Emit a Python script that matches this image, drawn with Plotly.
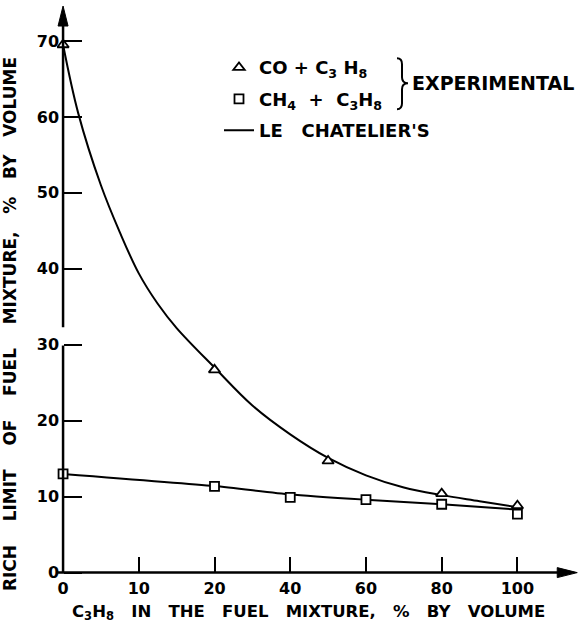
import plotly.graph_objects as go

# ---------------- data ----------------
tick_labels = [0, 10, 20, 40, 60, 80, 100]          # x tick labels (% C3H8), drawn equally spaced
y_ticks = [0, 10, 20, 30, 40, 50, 60, 70]

# experimental points
co_x = [0, 20, 50, 80, 100]
co_y = [69.5, 26.7, 14.7, 10.4, 8.8]
ch4_x = [0, 20, 40, 60, 80, 100]
ch4_y = [13.0, 11.35, 9.9, 9.6, 9.0, 7.7]

# Le Chatelier's curves
lc_co_x = [0, 2, 5, 7.5, 10, 12.5, 15, 20, 30, 40, 50, 60, 70, 80, 90, 100]
lc_co_y = [69.5, 60.5, 51.0, 44.8, 39.4, 35.4, 32.2, 27.0, 22.0, 18.2, 15.1, 12.8, 11.2, 10.2, 9.4, 8.6]
lc_ch4_x = [0, 20, 40, 60, 80, 100]
lc_ch4_y = [13.0, 11.4, 10.3, 9.6, 9.0, 8.3]


# axis is piecewise: labels 0,10,20,40,60,80,100 are equally spaced
def pos(v):
    return v / 10.0 if v <= 20 else 2.0 + (v - 20) / 20.0


def P(arr):
    return [pos(v) for v in arr]


FONT = "DejaVu Sans"
XR = [-0.08, 6.8]
YR = [-1.5, 75.0]
ML, MR, MT, MB = 57, 1, 2.7, 43.9
W, H = 579, 628
PW, PH = W - ML - MR, H - MT - MB


def px2x(px):
    return (px - ML) / PW


def py2y(py):
    return 1 - (py - MT) / PH


fig = go.Figure()

fig.add_trace(go.Scatter(
    x=P(lc_co_x), y=lc_co_y, mode="lines", name="LE   CHATELIER'S",
    line=dict(color="black", width=2, shape="spline", smoothing=1.0),
    legendrank=3, legendgroup="c"))
fig.add_trace(go.Scatter(
    x=P(lc_ch4_x), y=lc_ch4_y, mode="lines", showlegend=False, legendgroup="c",
    line=dict(color="black", width=2, shape="spline", smoothing=0.6)))
fig.add_trace(go.Scatter(
    x=P(co_x), y=co_y, mode="markers", name="CO + C<sub>3</sub> H<sub>8</sub>",
    marker=dict(symbol="triangle-up", size=10, color="white",
                line=dict(color="black", width=1.8)),
    legendrank=1, legendgroup="a"))
fig.add_trace(go.Scatter(
    x=P(ch4_x), y=ch4_y, mode="markers", name="CH<sub>4</sub>  +  C<sub>3</sub>H<sub>8</sub>",
    marker=dict(symbol="square", size=9, color="white",
                line=dict(color="black", width=1.8)),
    legendrank=2, legendgroup="b"))

pxu_x = PW / (XR[1] - XR[0])     # px per x unit
pxu_y = PH / (YR[1] - YR[0])     # px per y unit
hx = 5 / pxu_x
hy = 5 / pxu_y
lx = 20 / pxu_x
ly = 20 / pxu_y
ytop = 74.6
xtip = 6.79

# brace (pixel geometry -> paper)
bx0, bx1, bxt = 397, 402, 408
by0, bym, by1 = 58, 83, 109
brace = (f"M {px2x(bx0)},{py2y(by0)} Q {px2x(bx1)},{py2y(by0)} {px2x(bx1)},{py2y(by0 + 6)} "
         f"L {px2x(bx1)},{py2y(bym - 6)} Q {px2x(bx1)},{py2y(bym)} {px2x(bxt)},{py2y(bym)} "
         f"Q {px2x(bx1)},{py2y(bym)} {px2x(bx1)},{py2y(bym + 6)} "
         f"L {px2x(bx1)},{py2y(by1 - 6)} Q {px2x(bx1)},{py2y(by1)} {px2x(bx0)},{py2y(by1)}")

shapes = [
    # y axis (with break between ~30 and ~32)
    dict(type="line", xref="x", yref="y", x0=0, x1=0, y0=0, y1=29.9,
         line=dict(color="black", width=2.5)),
    dict(type="line", xref="x", yref="y", x0=0, x1=0, y0=32.3, y1=ytop - 1,
         line=dict(color="black", width=2.5)),
    # x axis
    dict(type="line", xref="x", yref="y", x0=XR[0], x1=xtip - lx / 2, y0=0, y1=0,
         line=dict(color="black", width=2.5)),
    # arrowheads
    dict(type="path", xref="x", yref="y",
         path=f"M {-hx},{ytop - ly} L 0,{ytop} L {hx},{ytop - ly} Z",
         fillcolor="black", line=dict(color="black", width=1)),
    dict(type="path", xref="x", yref="y",
         path=f"M {xtip - lx},{hy} L {xtip},0 L {xtip - lx},{-hy} Z",
         fillcolor="black", line=dict(color="black", width=1)),
    dict(type="path", xref="paper", yref="paper", path=brace,
         line=dict(color="black", width=2)),
]

annotations = [
    dict(text="RICH    LIMIT    OF    FUEL    MIXTURE,   %   BY   VOLUME", xref="paper", yref="paper",
         x=px2x(10), y=py2y(324), textangle=-90, showarrow=False,
         xanchor="center", yanchor="middle",
         font=dict(family=FONT, size=17, color="black", weight="bold")),
    dict(text="C<sub>3</sub>H<sub>8</sub>   IN   THE   FUEL   MIXTURE,   %   BY   VOLUME",
         xref="paper", yref="paper", x=px2x(308), y=py2y(613), showarrow=False,
         xanchor="center", yanchor="middle",
         font=dict(family=FONT, size=16.5, color="black", weight="bold")),
    dict(text="EXPERIMENTAL", xref="paper", yref="paper",
         x=px2x(410), y=py2y(83), showarrow=False,
         xanchor="left", yanchor="middle",
         font=dict(family=FONT, size=19, color="black", weight="bold")),
]

fig.update_layout(
    width=W, height=H, autosize=False,
    margin=dict(l=ML, r=MR, t=MT, b=MB, pad=0),
    paper_bgcolor="white", plot_bgcolor="white",
    font=dict(family=FONT, color="black"),
    shapes=shapes, annotations=annotations,
    legend=dict(x=px2x(219), y=py2y(49), xanchor="left", yanchor="top",
                bgcolor="rgba(0,0,0,0)", itemwidth=30,
                font=dict(family=FONT, size=18, color="black", weight="bold"),
                tracegroupgap=5, traceorder="grouped"),
    xaxis=dict(range=XR, tickvals=P(tick_labels), ticktext=[str(t) for t in tick_labels],
               showgrid=False, zeroline=False, showline=False,
               ticks="inside", ticklen=16, tickwidth=2, tickcolor="black",
               anchor="free", position=(0 - YR[0]) / (YR[1] - YR[0]),
               ticklabelstandoff=4,
               tickfont=dict(family=FONT, size=16, color="black", weight="bold")),
    yaxis=dict(range=YR, tickvals=y_ticks, showgrid=False, zeroline=False, showline=False,
               ticks="inside", ticklen=18, tickwidth=2, tickcolor="black",
               anchor="free", position=(0 - XR[0]) / (XR[1] - XR[0]),
               ticklabelstandoff=4,
               tickfont=dict(family=FONT, size=16, color="black", weight="bold")),
)

fig.write_html("out.html")
